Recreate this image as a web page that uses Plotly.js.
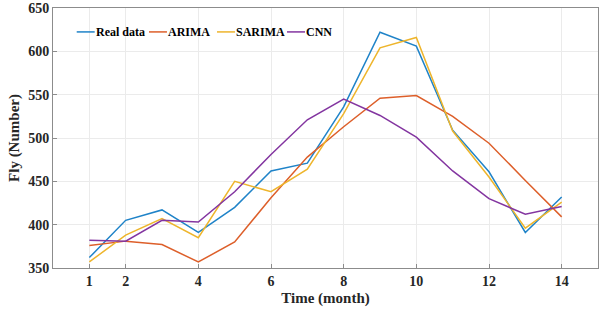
<!DOCTYPE html>
<html><head><meta charset="utf-8">
<script src="https://cdn.plot.ly/plotly-3.0.1.min.js"></script>
<style>html,body{margin:0;padding:0;background:#fff}#c{width:606px;height:313px}</style>
</head><body><div id="c"></div>
<script>
var months = [1,2,3,4,5,6,7,8,9,10,11,12,13,14];
var realData = [362,405,417,391,420,462,471,536,622,606,509,461,391,432];
var arima    = [376,381,377,357,380,431,478,513,546,549,525,494,451,409];
var sarima   = [357,388,407,385,450,438,464,528,604,616,508,455,396,426];
var cnn      = [382,381,405,403,438,481,521,545,526,501,462,430,412,421];
var names = ["Real data","ARIMA","SARIMA","CNN"];
var colors = ["#1f83c8","#DD5F2A","#EEB52C","#8335A0"];
var xTicks = [1,2,4,6,8,10,12,14];
var series = [realData, arima, sarima, cnn];
var traces = series.map(function(s,i){
  return {x: months, y: s, type:'scatter', mode:'lines', name: names[i], showlegend:false,
          line:{color: colors[i], width:1.5}};
});
var font = {family:'"Liberation Serif", "Times New Roman", serif', size:14, color:'#262626'};
// compact in-plot legend (MATLAB style): start of each legend line, paper coords
var legX = [0.0435, 0.1761, 0.3009, 0.4294];
var legLen = 0.033, legY = 0.908;
var shapes = names.map(function(n,i){
  return {type:'line', xref:'paper', yref:'paper', x0:legX[i], x1:legX[i]+legLen, y0:legY, y1:legY,
          line:{color:colors[i], width:1.5}};
});
var annotations = names.map(function(n,i){
  return {xref:'paper', yref:'paper', x:legX[i]+legLen, y:legY, xanchor:'left', yanchor:'middle',
          text:n, showarrow:false, borderpad:0,
          font:{family:font.family, size:12, color:'#000', weight:'bold'}};
});
var layout = {
  width:606, height:313,
  margin:{l:53, r:8, t:8, b:45},
  paper_bgcolor:'#fff', plot_bgcolor:'#fff',
  font: font,
  showlegend:false,
  shapes: shapes, annotations: annotations,
  xaxis:{range:[0,15], tickvals:xTicks, ticktext:xTicks.map(String),
         showgrid:true, gridcolor:'#ebebeb', zeroline:false,
         showline:true, linecolor:'#8c8c8c', mirror:true, ticks:'inside', ticklen:4, tickcolor:'#8c8c8c',
         tickfont:{family:font.family, size:14, color:'#262626', weight:'bold'},
         title:{text:'Time (month)', font:{family:font.family, size:15, color:'#262626', weight:'bold'}, standoff:4}},
  yaxis:{range:[350,650], tickvals:[350,400,450,500,550,600,650],
         showgrid:true, gridcolor:'#ebebeb', zeroline:false,
         showline:true, linecolor:'#8c8c8c', mirror:true, ticks:'inside', ticklen:4, tickcolor:'#8c8c8c',
         tickfont:{family:font.family, size:14, color:'#262626', weight:'bold'},
         title:{text:'Fly (Number)', font:{family:font.family, size:15, color:'#262626', weight:'bold'}, standoff:4}}
};
Plotly.newPlot('c', traces, layout, {displayModeBar:false, staticPlot:true});
</script></body></html>
